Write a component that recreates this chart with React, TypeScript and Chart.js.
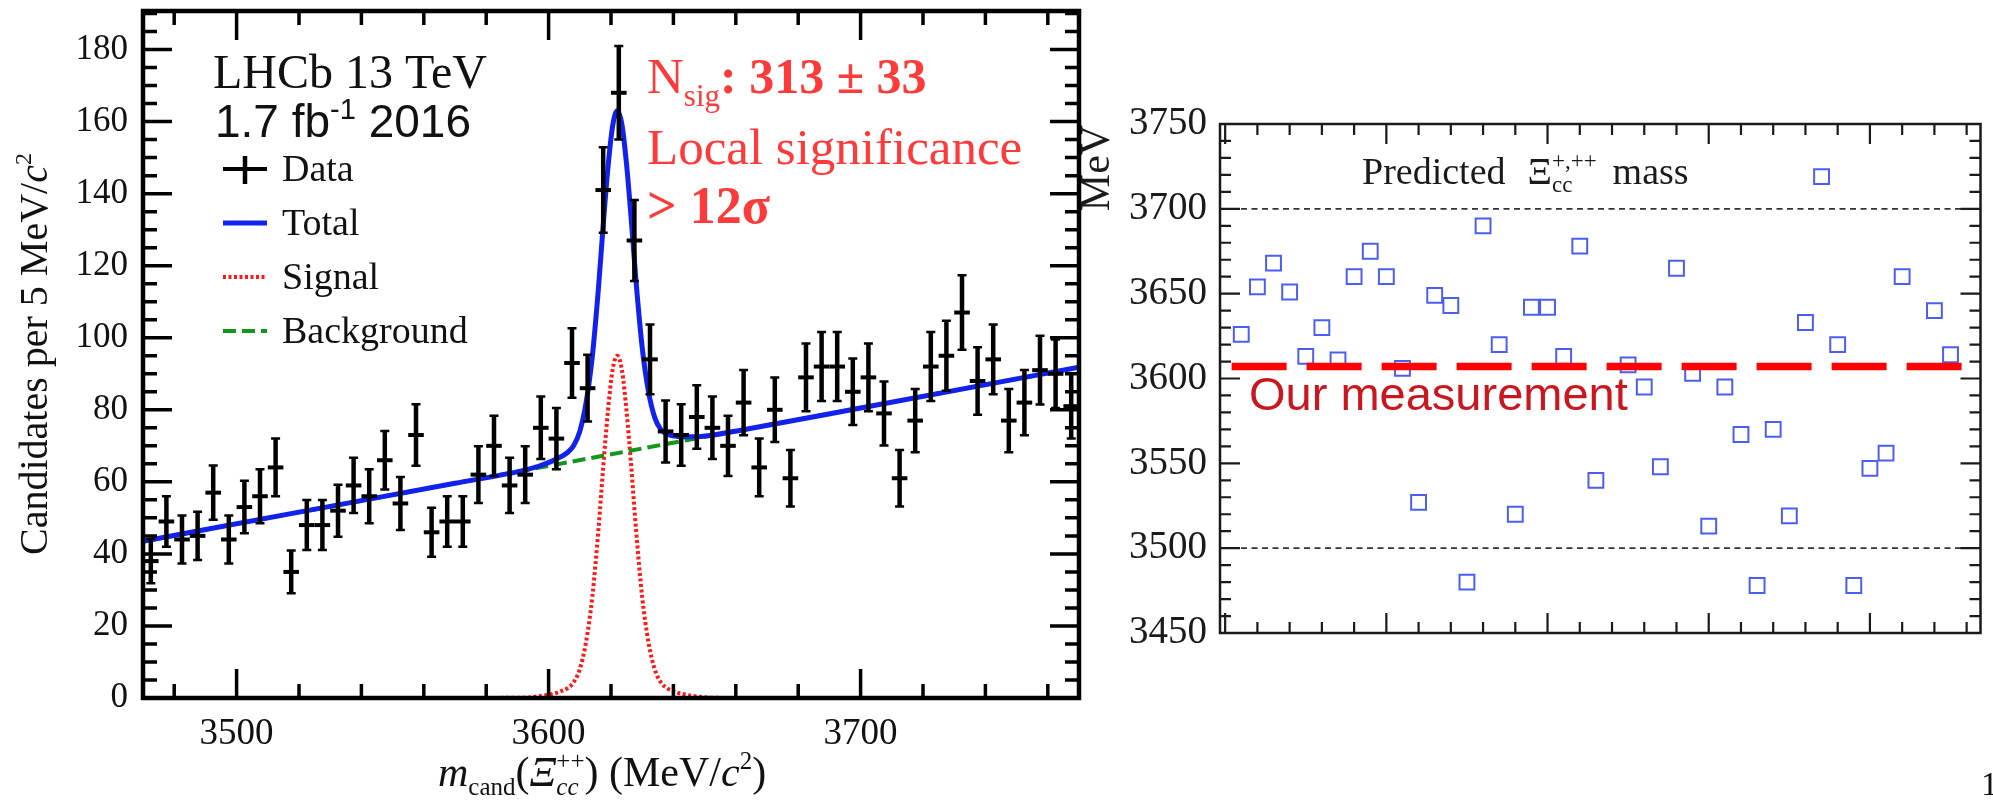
import React, { useEffect, useRef } from 'react';
import { Chart, registerables } from 'chart.js';

Chart.register(...registerables);

const SERIF = '"Liberation Serif", "Times New Roman", serif';
const SANS = '"Liberation Sans", Arial, sans-serif';

// ---------------- Left panel data ----------------
const binStart = 3472.5;
const binWidth = 5;
const candidateCounts = [
  38, 49, 44, 45, 57, 44, 53, 56, 64, 35,
  48, 48, 52, 59, 56, 66, 54, 73, 46, 49,
  49, 62, 70, 59, 62, 75, 72, 93, 86, 141,
  168, 127, 94, 74, 73, 78, 75, 70, 82, 64,
  80, 61, 89, 92, 92, 85, 89, 79, 61, 77,
  92, 95, 107, 88, 94, 77, 82, 91, 90, 81,
];
const binCenters = candidateCounts.map((_, i) => binStart + i * binWidth);

const fitMass = [
  3470, 3520, 3570, 3592, 3597, 3602, 3604, 3606, 3608, 3610,
  3612, 3614, 3616, 3617.5, 3619, 3620.5, 3622, 3623.5, 3625, 3626.5,
  3628, 3630, 3632, 3634, 3636, 3638, 3640, 3642, 3647, 3652,
  3662, 3700, 3770,
];
const signalFit = [
  0, 0, 0, 0.1, 0.5, 1.3, 1.9, 2.7, 4.3, 8,
  15.5, 28, 47, 64, 79.5, 91, 95, 91, 79.5, 64,
  47, 28, 15.5, 8, 4.3, 2.7, 1.9, 1.3, 0.5, 0.1,
  0, 0, 0,
];
const totalFit = [
  43.5, 51.6, 59.6, 63.2, 64.4, 66.1, 67.0, 68.1, 70.0, 74.0,
  81.9, 94.7, 114.0, 131.3, 147.0, 158.7, 163.0, 159.2, 148.0, 132.7,
  115.9, 97.3, 85.1, 77.9, 74.5, 73.2, 72.8, 72.5, 72.5, 72.9,
  74.4, 80.5, 91.8,
];
const bkgMass = [3470, 3770];
const bkgFit = [43.5, 91.8];

const leftXTicks = [3500, 3600, 3700];
const leftYTicks = [0, 20, 40, 60, 80, 100, 120, 140, 160, 180];

// ---------------- Right panel data ----------------
const predictedSlot = [
  0.5, 1, 1.5, 2, 2.5, 3, 3.5, 4, 4.5, 5,
  5.5, 6, 6.5, 7, 7.5, 8, 8.5, 9, 9.5, 10,
  10.5, 11, 11.5, 12.5, 13, 13.5, 14, 14.5, 15, 15.5,
  16, 16.5, 17, 17.5, 18, 18.5, 19, 19.5, 20, 20.5,
  21, 22, 22.5,
];
const predictedMass = [
  3626, 3654, 3668, 3651, 3613, 3630, 3611, 3660, 3675, 3660,
  3606, 3527, 3649, 3643, 3480, 3690, 3620, 3520, 3642, 3642,
  3613, 3678, 3540, 3608, 3595, 3548, 3665, 3603, 3513, 3595,
  3567, 3478, 3570, 3519, 3633, 3719, 3620, 3478, 3547, 3556,
  3660, 3640, 3614,
];
const predictedBand = [3500, 3700];
const ourMeasurement = 3607;
const rightYTicks = [3450, 3500, 3550, 3600, 3650, 3700, 3750];

// ---------------- colors ----------------
const BLUE = '#1222ee';
const GREEN = '#14961a';
const RED_SIG = '#ff1a1a';
const RED_TXT = '#ff3a3a';
const SQUARE = '#4c5ef2';
const MEAS_RED = '#ff0000';
const MEAS_TXT = '#c9161f';

const RIGHT_OFF = 1060;

type Run = { t: string; font: string; dy?: number; color?: string; overlay?: boolean; gap?: number };

function drawRuns(ctx: CanvasRenderingContext2D, x: number, y: number, runs: Run[], color: string, draw = true): number {
  let cx = x;
  let lastStart = x;
  let lastW = 0;
  for (const r of runs) {
    ctx.font = r.font;
    const w = ctx.measureText(r.t).width;
    const sx = r.overlay ? lastStart : cx;
    if (draw) {
      ctx.fillStyle = r.color || color;
      ctx.fillText(r.t, sx, y + (r.dy || 0));
    }
    if (r.overlay) {
      lastW = Math.max(lastW, w);
      cx = lastStart + lastW;
    } else {
      lastStart = sx;
      lastW = w;
      cx = sx + w;
    }
    if (r.gap) cx += r.gap;
  }
  return cx - x;
}

type TickCfg = {
  yFrom: number; yTo: number; yMinor: number; yMajor: number;
  xFrom: number; xTo: number; xMinor: number; xMajor: number;
  majorLen: number; minorLen: number; tickWidth: number; frameWidth: number; color: string;
};

function isMultiple(v: number, step: number) {
  const q = v / step;
  return Math.abs(q - Math.round(q)) < 1e-6;
}

function drawFrame(chart: any, cfg: TickCfg) {
  const ctx: CanvasRenderingContext2D = chart.ctx;
  const { left, right, top, bottom } = chart.chartArea;
  const xs = chart.scales.x;
  const ys = chart.scales.y;
  ctx.save();
  ctx.strokeStyle = cfg.color;
  ctx.lineWidth = cfg.tickWidth;
  ctx.lineCap = 'butt';
  ctx.setLineDash([]);
  ctx.beginPath();
  for (let v = cfg.yFrom; v <= cfg.yTo + 1e-9; v += cfg.yMinor) {
    const y = ys.getPixelForValue(v);
    const len = isMultiple(v, cfg.yMajor) ? cfg.majorLen : cfg.minorLen;
    ctx.moveTo(left, y);
    ctx.lineTo(left + len, y);
    ctx.moveTo(right, y);
    ctx.lineTo(right - len, y);
  }
  for (let v = cfg.xFrom; v <= cfg.xTo + 1e-9; v += cfg.xMinor) {
    const x = xs.getPixelForValue(v);
    const len = isMultiple(v, cfg.xMajor) ? cfg.majorLen : cfg.minorLen;
    ctx.moveTo(x, bottom);
    ctx.lineTo(x, bottom - len);
    ctx.moveTo(x, top);
    ctx.lineTo(x, top + len);
  }
  ctx.stroke();
  ctx.lineWidth = cfg.frameWidth;
  ctx.strokeRect(left, top, right - left, bottom - top);
  ctx.restore();
}

const leftPlugin = {
  id: 'leftDecor',
  afterDatasetsDraw(chart: any) {
    const ctx: CanvasRenderingContext2D = chart.ctx;
    const xs = chart.scales.x;
    const ys = chart.scales.y;
    ctx.save();
    ctx.strokeStyle = '#000';
    ctx.lineCap = 'butt';
    candidateCounts.forEach((n, i) => {
      const m = binCenters[i];
      const e = Math.sqrt(n);
      const px = xs.getPixelForValue(m);
      const py = ys.getPixelForValue(n);
      const yTop = ys.getPixelForValue(n + e);
      const yBot = ys.getPixelForValue(n - e);
      const xl = xs.getPixelForValue(m - binWidth / 2);
      const xr = xs.getPixelForValue(m + binWidth / 2);
      ctx.lineWidth = 4.5;
      ctx.beginPath();
      ctx.moveTo(px, yTop);
      ctx.lineTo(px, yBot);
      ctx.stroke();
      ctx.lineWidth = 4;
      ctx.beginPath();
      ctx.moveTo(xl, py);
      ctx.lineTo(xr, py);
      ctx.stroke();
      ctx.lineWidth = 2.5;
      ctx.beginPath();
      ctx.moveTo(px - 4.5, yTop);
      ctx.lineTo(px + 4.5, yTop);
      ctx.moveTo(px - 4.5, yBot);
      ctx.lineTo(px + 4.5, yBot);
      ctx.stroke();
    });
    ctx.restore();
  },
  afterDraw(chart: any) {
    const ctx: CanvasRenderingContext2D = chart.ctx;
    drawFrame(chart, {
      yFrom: 0, yTo: 190, yMinor: 5, yMajor: 20,
      xFrom: 3480, xTo: 3760, xMinor: 20, xMajor: 100,
      majorLen: 29, minorLen: 14, tickWidth: 3.5, frameWidth: 4.5, color: '#000',
    });
    ctx.save();
    ctx.textAlign = 'left';
    ctx.textBaseline = 'alphabetic';
    // Experiment labels
    drawRuns(ctx, 213, 88, [{ t: 'LHCb 13 TeV', font: `48px ${SERIF}` }], '#111');
    drawRuns(ctx, 215, 137, [
      { t: '1.7 fb', font: `46px ${SANS}` },
      { t: '-1', font: `29px ${SANS}`, dy: -18 },
      { t: ' 2016', font: `46px ${SANS}` },
    ], '#111');

    // Legend
    const rows = [169, 223, 277, 331];
    const names = ['Data', 'Total', 'Signal', 'Background'];
    const sx0 = 223;
    const sx1 = 267;
    ctx.lineCap = 'butt';
    ctx.strokeStyle = '#000';
    ctx.setLineDash([]);
    ctx.lineWidth = 4;
    ctx.beginPath();
    ctx.moveTo(sx0, rows[0]);
    ctx.lineTo(sx1, rows[0]);
    ctx.stroke();
    ctx.lineWidth = 4.5;
    ctx.beginPath();
    ctx.moveTo(245, rows[0] - 13);
    ctx.lineTo(245, rows[0] + 15);
    ctx.stroke();
    ctx.strokeStyle = BLUE;
    ctx.lineWidth = 5;
    ctx.beginPath();
    ctx.moveTo(sx0, rows[1]);
    ctx.lineTo(sx1, rows[1]);
    ctx.stroke();
    ctx.strokeStyle = RED_SIG;
    ctx.lineWidth = 4;
    ctx.setLineDash([3, 2.5]);
    ctx.beginPath();
    ctx.moveTo(sx0, rows[2]);
    ctx.lineTo(sx1, rows[2]);
    ctx.stroke();
    ctx.strokeStyle = GREEN;
    ctx.setLineDash([13, 6]);
    ctx.beginPath();
    ctx.moveTo(sx0, rows[3]);
    ctx.lineTo(sx1, rows[3]);
    ctx.stroke();
    ctx.setLineDash([]);
    names.forEach((n, i) => {
      drawRuns(ctx, 282, rows[i] + 12, [{ t: n, font: `38px ${SERIF}` }], '#111');
    });

    // Red annotation
    drawRuns(ctx, 647, 93, [
      { t: 'N', font: `51px ${SERIF}` },
      { t: 'sig', font: `31px ${SERIF}`, dy: 13 },
      { t: ': 313 ± 33', font: `bold 50px ${SERIF}` },
    ], RED_TXT);
    drawRuns(ctx, 647, 164, [{ t: 'Local significance', font: `51px ${SERIF}` }], RED_TXT);
    drawRuns(ctx, 647, 223, [{ t: '> 12σ', font: `bold 52px ${SERIF}` }], RED_TXT);

    // X title
    drawRuns(ctx, 438, 786, [
      { t: 'm', font: `italic 42px ${SERIF}` },
      { t: 'cand', font: `25px ${SERIF}`, dy: 9 },
      { t: '(', font: `42px ${SERIF}` },
      { t: 'Ξ', font: `italic 42px ${SERIF}` },
      { t: 'cc', font: `italic 25px ${SERIF}`, dy: 9 },
      { t: '++', font: `25px ${SERIF}`, dy: -17, overlay: true },
      { t: ') (MeV/', font: `42px ${SERIF}` },
      { t: 'c', font: `italic 42px ${SERIF}` },
      { t: '2', font: `25px ${SERIF}`, dy: -17 },
      { t: ')', font: `42px ${SERIF}` },
    ], '#111');

    // Y title (rotated)
    const yRuns: Run[] = [
      { t: 'Candidates per 5 MeV/', font: `40px ${SERIF}` },
      { t: 'c', font: `italic 40px ${SERIF}` },
      { t: '2', font: `24px ${SERIF}`, dy: -16 },
    ];
    ctx.save();
    ctx.translate(47, 354);
    ctx.rotate(-Math.PI / 2);
    const w = drawRuns(ctx, 0, 0, yRuns, '#111', false);
    drawRuns(ctx, -w / 2, 0, yRuns, '#111');
    ctx.restore();
    ctx.restore();
  },
};

const rightPlugin = {
  id: 'rightDecor',
  afterDraw(chart: any) {
    const ctx: CanvasRenderingContext2D = chart.ctx;
    drawFrame(chart, {
      yFrom: 3450, yTo: 3750, yMinor: 10, yMajor: 50,
      xFrom: 0, xTo: 23, xMinor: 1, xMajor: 5,
      majorLen: 20, minorLen: 11, tickWidth: 2.2, frameWidth: 2.5, color: '#1a1a1a',
    });
    ctx.save();
    ctx.textBaseline = 'alphabetic';
    ctx.textAlign = 'left';
    drawRuns(ctx, 1362 - RIGHT_OFF, 184, [
      { t: 'Predicted', font: `38px ${SERIF}`, gap: 22 },
      { t: 'Ξ', font: `38px ${SERIF}` },
      { t: 'cc', font: `23px ${SERIF}`, dy: 8 },
      { t: '+,++', font: `23px ${SERIF}`, dy: -16, overlay: true, gap: 16 },
      { t: 'mass', font: `38px ${SERIF}` },
    ], '#1a1a1a');
    drawRuns(ctx, 1249 - RIGHT_OFF, 410, [{ t: 'Our measurement', font: `47px ${SANS}` }], MEAS_TXT);
    ctx.save();
    ctx.translate(1109 - RIGHT_OFF, 168);
    ctx.rotate(-Math.PI / 2);
    ctx.textAlign = 'center';
    ctx.font = `42px ${SERIF}`;
    ctx.fillStyle = '#1a1a1a';
    ctx.fillText('MeV', 0, 0);
    ctx.restore();
    ctx.font = `34px ${SERIF}`;
    ctx.fillStyle = '#111';
    ctx.fillText('1', 1981 - RIGHT_OFF, 795);
    ctx.restore();
  },
};

export default function App() {
  const leftRef = useRef<HTMLCanvasElement>(null);
  const rightRef = useRef<HTMLCanvasElement>(null);

  useEffect(() => {
    const left = new Chart(leftRef.current as HTMLCanvasElement, {
      type: 'scatter',
      data: {
        datasets: [
          {
            label: 'Total',
            data: fitMass.map((m, i) => ({ x: m, y: totalFit[i] })),
            showLine: true,
            borderColor: BLUE,
            borderWidth: 5,
            pointRadius: 0,
            cubicInterpolationMode: 'monotone',
            fill: false,
          } as any,
          {
            label: 'Background',
            data: bkgMass.map((m, i) => ({ x: m, y: bkgFit[i] })),
            showLine: true,
            borderColor: GREEN,
            borderWidth: 4,
            borderDash: [13, 6],
            pointRadius: 0,
            fill: false,
          } as any,
          {
            label: 'Signal',
            data: fitMass.map((m, i) => ({ x: m, y: signalFit[i] })),
            showLine: true,
            borderColor: RED_SIG,
            borderWidth: 4,
            borderDash: [3, 2.5],
            pointRadius: 0,
            cubicInterpolationMode: 'monotone',
            fill: false,
          } as any,
        ],
      },
      options: {
        responsive: false,
        animation: false,
        devicePixelRatio: 1,
        events: [],
        layout: { padding: { top: 11, right: 21, left: 0, bottom: 0 } },
        plugins: { legend: { display: false }, tooltip: { enabled: false } },
        scales: {
          x: {
            type: 'linear',
            position: 'bottom',
            min: 3470,
            max: 3770,
            grid: { display: false, drawTicks: false },
            border: { display: false },
            ticks: {
              font: { family: SERIF, size: 37 },
              color: '#111',
              padding: 14,
              maxRotation: 0,
              autoSkip: false,
              callback: (v: any) => String(v),
            },
            afterBuildTicks: (s: any) => {
              s.ticks = leftXTicks.map((v) => ({ value: v }));
            },
            afterFit: (s: any) => {
              s.height = 103;
              s.paddingLeft = 0;
              s.paddingRight = 0;
            },
          },
          y: {
            type: 'linear',
            min: 0,
            max: 190.7,
            grid: { display: false, drawTicks: false },
            border: { display: false },
            ticks: {
              font: { family: SERIF, size: 35 },
              color: '#111',
              padding: 15,
              autoSkip: false,
              callback: (v: any) => String(v),
            },
            afterBuildTicks: (s: any) => {
              s.ticks = leftYTicks.map((v) => ({ value: v }));
            },
            afterFit: (s: any) => {
              s.width = 143;
              s.paddingTop = 0;
              s.paddingBottom = 0;
            },
          },
        },
      } as any,
      plugins: [leftPlugin],
    });

    const right = new Chart(rightRef.current as HTMLCanvasElement, {
      type: 'scatter',
      data: {
        datasets: [
          {
            label: 'Our measurement',
            data: [{ x: 0.2, y: ourMeasurement }, { x: 23.1, y: ourMeasurement }],
            showLine: true,
            borderColor: MEAS_RED,
            borderWidth: 7.5,
            borderDash: [55, 20],
            borderCapStyle: 'butt',
            pointRadius: 0,
            fill: false,
          } as any,
          {
            label: 'Predictions',
            data: predictedSlot.map((x, i) => ({ x, y: predictedMass[i] })),
            pointStyle: 'rect',
            pointRadius: 10.5,
            borderColor: SQUARE,
            borderWidth: 2,
            backgroundColor: 'rgba(255,255,255,0)',
          } as any,
          {
            label: 'Upper',
            data: [{ x: -0.16, y: predictedBand[1] }, { x: 23.43, y: predictedBand[1] }],
            showLine: true,
            borderColor: '#333',
            borderWidth: 1.6,
            borderDash: [6, 4.5],
            pointRadius: 0,
            fill: false,
          } as any,
          {
            label: 'Lower',
            data: [{ x: -0.16, y: predictedBand[0] }, { x: 23.43, y: predictedBand[0] }],
            showLine: true,
            borderColor: '#333',
            borderWidth: 1.6,
            borderDash: [6, 4.5],
            pointRadius: 0,
            fill: false,
          } as any,
        ],
      },
      options: {
        responsive: false,
        animation: false,
        devicePixelRatio: 1,
        events: [],
        layout: { padding: { top: 124, right: 11, left: 0, bottom: 0 } },
        plugins: { legend: { display: false }, tooltip: { enabled: false } },
        scales: {
          x: {
            type: 'linear',
            min: -0.16,
            max: 23.43,
            grid: { display: false, drawTicks: false },
            border: { display: false },
            ticks: { display: false },
            afterFit: (s: any) => {
              s.height = 168;
              s.paddingLeft = 0;
              s.paddingRight = 0;
            },
          },
          y: {
            type: 'linear',
            min: 3450,
            max: 3750,
            grid: { display: false, drawTicks: false },
            border: { display: false },
            ticks: {
              font: { family: SERIF, size: 39 },
              color: '#1a1a1a',
              padding: 13,
              autoSkip: false,
              callback: (v: any) => String(v),
            },
            afterBuildTicks: (s: any) => {
              s.ticks = rightYTicks.map((v) => ({ value: v }));
            },
            afterFit: (s: any) => {
              s.width = 1220 - RIGHT_OFF;
              s.paddingTop = 0;
              s.paddingBottom = 0;
            },
          },
        },
      } as any,
      plugins: [rightPlugin],
    });

    return () => {
      left.destroy();
      right.destroy();
    };
  }, []);

  return (
    <div style={{ position: 'fixed', left: 0, top: 0, width: 1993, height: 801, background: '#fff', overflow: 'hidden' }}>
      <canvas ref={leftRef} width={1100} height={801} style={{ position: 'absolute', left: 0, top: 0, width: 1100, height: 801 }} />
      <canvas ref={rightRef} width={1993 - RIGHT_OFF} height={801} style={{ position: 'absolute', left: RIGHT_OFF, top: 0, width: 1993 - RIGHT_OFF, height: 801 }} />
    </div>
  );
}
